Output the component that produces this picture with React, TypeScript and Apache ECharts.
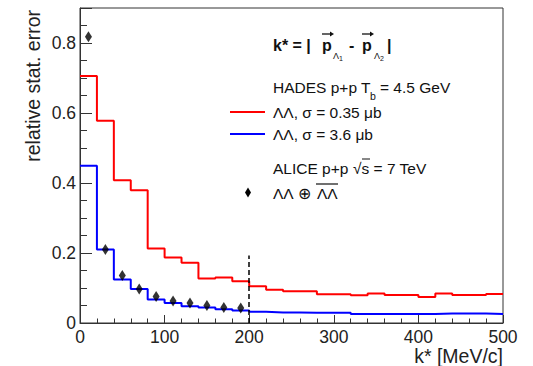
import React, { useEffect, useRef } from "react";
import * as echarts from "echarts";

const BIN_EDGES = [0, 20, 40, 60, 80, 100, 120, 140, 160, 180, 200, 220, 240, 260, 280, 300, 320, 340, 360, 380, 400, 420, 440, 460, 480, 500];
const HADES_035 = [0.706, 0.578, 0.408, 0.379, 0.213, 0.187, 0.172, 0.127, 0.13, 0.119, 0.105, 0.095, 0.091, 0.091, 0.082, 0.082, 0.079, 0.084, 0.08, 0.08, 0.074, 0.084, 0.08, 0.08, 0.083];
const HADES_36 = [0.449, 0.21, 0.124, 0.097, 0.067, 0.057, 0.048, 0.044, 0.039, 0.036, 0.032, 0.03, 0.03, 0.029, 0.029, 0.029, 0.026, 0.026, 0.026, 0.026, 0.026, 0.027, 0.027, 0.027, 0.026];
const ALICE_K = [10, 30, 50, 70, 90, 110, 130, 150, 170, 190];
const ALICE_ERR = [0.818, 0.21, 0.136, 0.097, 0.076, 0.063, 0.057, 0.05, 0.044, 0.043];
const CUT_K = 200;
const CUT_TOP = 0.193;

const FONT = "'Liberation Sans', Arial, Helvetica, sans-serif";
const TXT = "#111";

function stepData(vals: number[]) {
  const d: number[][] = vals.map((v, i) => [BIN_EDGES[i], v]);
  d.push([BIN_EDGES[BIN_EDGES.length - 1], vals[vals.length - 1]]);
  return d;
}

function t(x: number, y: number, text: string, size = 15.5, extra: any = {}) {
  return {
    type: "text",
    x,
    y,
    style: {
      text,
      fontFamily: FONT,
      fontSize: size,
      fill: TXT,
      textVerticalAlign: "middle",
      ...extra,
    },
  };
}

function vecArrow(x1: number, x2: number, y: number) {
  return [
    { type: "line", shape: { x1, y1: y, x2: x2 - 2, y2: y }, style: { stroke: TXT, lineWidth: 1.3 } },
    { type: "polygon", shape: { points: [[x2, y], [x2 - 4, y - 2.5], [x2 - 4, y + 2.5]] }, style: { fill: TXT } },
  ];
}

export default function App() {
  const ref = useRef<HTMLDivElement>(null);
  useEffect(() => {
    if (!ref.current) return;
    const chart = echarts.init(ref.current, null, { renderer: "svg" });
    const LX = 273;
    chart.setOption({
      animation: false,
      grid: {
        left: 80,
        right: 30,
        top: 8,
        bottom: 43,
        show: true,
        borderColor: "#333",
        borderWidth: 1,
        backgroundColor: "transparent",
      },
      xAxis: {
        type: "value",
        min: 0,
        max: 500,
        interval: 100,
        axisLine: { show: true, lineStyle: { color: "#333", width: 1 } },
        axisTick: { show: true, inside: true, length: 8, lineStyle: { color: "#333" } },
        minorTick: { show: true, splitNumber: 5, length: 4.5, lineStyle: { color: "#333" } },
        splitLine: { show: false },
        axisLabel: { fontFamily: FONT, fontSize: 17.5, color: "#222", margin: 5 },
      },
      yAxis: {
        type: "value",
        min: 0,
        max: 0.9,
        interval: 0.2,
        axisLine: { show: true, lineStyle: { color: "#333", width: 1 } },
        axisTick: { show: true, inside: true, length: 12, lineStyle: { color: "#333" } },
        minorTick: { show: true, splitNumber: 4, length: 7, lineStyle: { color: "#333" } },
        splitLine: { show: false },
        axisLabel: {
          fontFamily: FONT,
          fontSize: 17.5,
          color: "#222",
          margin: 4,
          formatter: (v: number) => (v > 0.85 ? "" : String(Math.round(v * 10) / 10)),
        },
      },
      series: [
        {
          type: "line",
          step: "end",
          data: stepData(HADES_035),
          showSymbol: false,
          lineStyle: { color: "#ff0000", width: 2 },
          z: 3,
        },
        {
          type: "line",
          step: "end",
          data: stepData(HADES_36),
          showSymbol: false,
          lineStyle: { color: "#0000ff", width: 2 },
          z: 3,
        },
        {
          type: "scatter",
          data: ALICE_K.map((k, i) => [k, ALICE_ERR[i]]),
          symbol: "diamond",
          symbolSize: [7, 11],
          itemStyle: { color: "#000" },
          z: 5,
          markLine: {
            silent: true,
            symbol: "none",
            label: { show: false },
            lineStyle: { color: "#000", type: [5, 3], width: 1.5 },
            data: [[{ coord: [CUT_K, 0] }, { coord: [CUT_K, CUT_TOP] }]],
          },
        },
      ],
      graphic: [
        {
          type: "text",
          x: 33,
          y: 10,
          rotation: Math.PI / 2,
          style: {
            text: "relative stat. error",
            fontFamily: FONT,
            fontSize: 19.5,
            fill: "#222",
            textAlign: "right",
            textVerticalAlign: "middle",
          },
        },
        t(503, 356, "k* [MeV/c]", 19.5, { textAlign: "right", fill: "#222" }),
        t(LX, 45, "k* = |", 16, { fontWeight: "bold" }),
        t(322, 45, "p", 16, { fontWeight: "bold" }),
        ...vecArrow(322, 334, 34),
        t(333, 56, "Λ", 9),
        t(339, 58, "1", 7),
        t(349, 45, "-", 16, { fontWeight: "bold" }),
        t(362, 45, "p", 16, { fontWeight: "bold" }),
        ...vecArrow(362, 374, 34),
        t(374, 56, "Λ", 9),
        t(380, 58, "2", 7),
        t(387, 45, "|", 16, { fontWeight: "bold" }),
        t(LX, 87, "HADES p+p T", 15.5),
        t(370, 96, "b", 10.5),
        t(380, 87, "= 4.5 GeV", 15.5),
        {
          type: "line",
          shape: { x1: 230, y1: 112, x2: 265, y2: 112 },
          style: { stroke: "#ff0000", lineWidth: 2 },
        },
        t(LX, 112, "ΛΛ, σ = 0.35 μb", 15.5),
        {
          type: "line",
          shape: { x1: 230, y1: 134, x2: 265, y2: 134 },
          style: { stroke: "#0000ff", lineWidth: 2 },
        },
        t(LX, 134, "ΛΛ, σ = 3.6 μb", 15.5),
        t(LX, 168, "ALICE p+p", 15.5),
        t(353, 168, "√s = 7 TeV", 15.5),
        {
          type: "line",
          shape: { x1: 362, y1: 159, x2: 370, y2: 159 },
          style: { stroke: TXT, lineWidth: 1 },
        },
        {
          type: "polygon",
          shape: { points: [[248, 187.5], [251, 192.5], [248, 197.5], [245, 192.5]] },
          style: { fill: "#000" },
        },
        t(LX, 193, "ΛΛ", 15.5),
        t(298, 193, "⊕", 15.5),
        t(317, 193, "ΛΛ", 15.5),
        {
          type: "line",
          shape: { x1: 316, y1: 184, x2: 338, y2: 184 },
          style: { stroke: TXT, lineWidth: 1.2 },
        },
      ],
    });
    return () => chart.dispose();
  }, []);
  return (
    <div
      ref={ref}
      style={{ position: "fixed", left: 0, top: 0, width: 533, height: 366, background: "#fff" }}
    />
  );
}
